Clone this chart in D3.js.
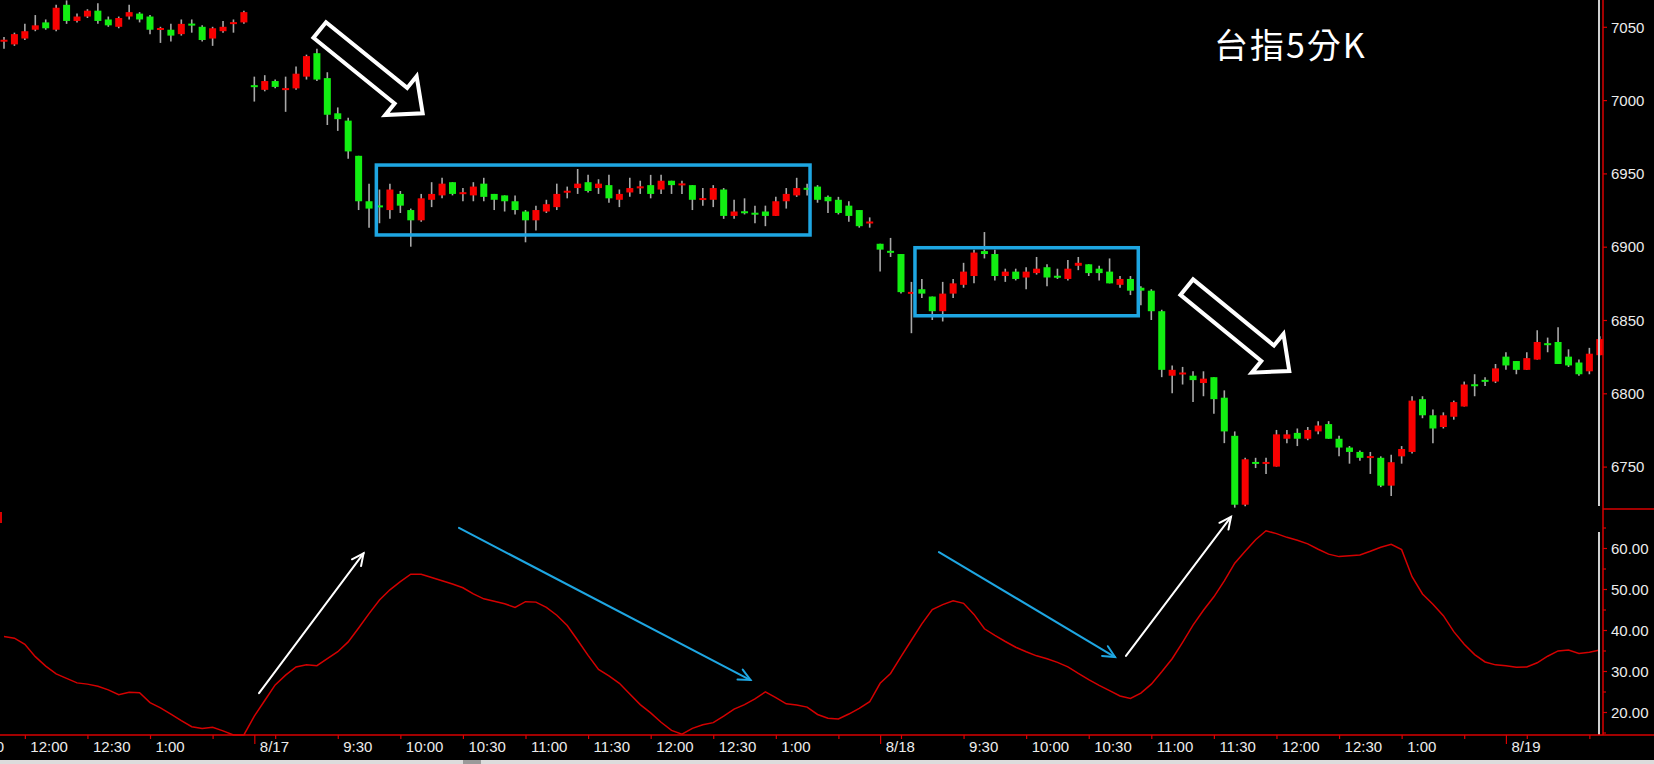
<!DOCTYPE html>
<html>
<head>
<meta charset="utf-8">
<script src="https://cdn.jsdelivr.net/npm/d3@7/dist/d3.min.js"></script>
<style>
  html, body { margin: 0; padding: 0; background: #000; overflow: hidden; }
  svg { display: block; }
  .lbl { font-family: "Liberation Sans", Arial, sans-serif; font-size: 15px; fill: #ececec; }
</style>
</head>
<body>
<svg id="chart" width="1654" height="764"></svg>
<script>
// ---- DATA (5-minute bars, TAIEX futures) ----
const opens  = [7040,7038,7042,7048,7053,7048,7065,7054,7057,7061,7055,7050,7057,7059,7057,7048,7048,7045,7052,7050,7042,7047,7052,7053,
 7010,7007,7013,7007,7008,7016,7032,7015,6991,6986,6962,6931,6928,6925,6936,6925,6918,6932,6935,6944,6936,6935,6943,6936,6935,6931,6924,6918,6924,6927,6937,6940,6944,6940,6942,6932,6937,6940,6942,6939,6945,6942,6942,6932,6932,6939,6921,6924,6923,6924,6921,6931,6935,6940,6941,6934,6932,6928,6925,6916,
 6902,6897,6895,6868,6871,6866,6856,6868,6874,6880,6897,6895,6880,6883,6879,6882,6886,6880,6878,6887,6888,6885,6883,6874,6878,6872,6870,6856,6812,6813,6812,6807,6811,6797,6771,6724,6753,6752,6750,6769,6773,6769,6774,6779,6769,6763,6760,6756,6756,6737,6757,6760,6796,6785,6777,6784,6791,6806,6809,6808,
 6825,6822,6816,6823,6834,6835,6825,6821,6815,6826];
const highs  = [7043,7046,7052,7058,7055,7065,7068,7059,7062,7066,7057,7057,7065,7060,7058,7050,7052,7055,7055,7051,7050,7054,7055,7061,
 7016,7017,7014,7016,7023,7031,7035,7019,6995,6988,6962,6943,6939,6943,6938,6926,6936,6944,6947,6944,6940,6944,6947,6936,6935,6935,6925,6928,6932,6943,6941,6953,6949,6946,6949,6939,6947,6945,6949,6949,6945,6945,6942,6940,6942,6940,6932,6933,6928,6928,6934,6940,6947,6943,6942,6935,6934,6931,6925,6920,
 6902,6906,6895,6876,6878,6866,6876,6878,6889,6898,6910,6898,6885,6885,6886,6893,6888,6885,6891,6893,6888,6887,6892,6880,6880,6873,6871,6857,6819,6818,6815,6815,6811,6802,6774,6756,6756,6756,6775,6775,6776,6777,6781,6781,6771,6764,6761,6760,6757,6758,6764,6798,6798,6789,6787,6795,6808,6813,6811,6820,
 6828,6822,6828,6843,6838,6845,6830,6823,6831,6839];
const lows   = [7035,7037,7041,7047,7048,7047,7052,7053,7056,7052,7050,7049,7055,7053,7045,7039,7040,7044,7046,7040,7037,7046,7046,7052,
 6999,7006,7008,6992,7007,7014,7013,6983,6979,6960,6925,6913,6916,6919,6923,6900,6917,6927,6933,6935,6931,6931,6931,6925,6924,6922,6903,6911,6923,6925,6933,6936,6937,6936,6930,6927,6934,6936,6933,6936,6936,6936,6925,6928,6927,6919,6919,6922,6916,6914,6921,6926,6934,6935,6930,6923,6922,6917,6913,6913,
 6883,6893,6868,6841,6865,6850,6849,6865,6872,6875,6892,6877,6876,6877,6871,6881,6873,6878,6877,6884,6880,6877,6875,6872,6867,6860,6850,6811,6800,6806,6794,6798,6786,6766,6722,6723,6749,6745,6750,6766,6764,6768,6772,6769,6757,6752,6754,6745,6736,6730,6752,6759,6783,6766,6776,6782,6791,6798,6805,6807,
 6816,6813,6816,6823,6828,6820,6818,6812,6813,6826];
const closes = [7041,7045,7047,7051,7049,7063,7054,7057,7061,7054,7051,7056,7060,7055,7048,7049,7044,7052,7051,7041,7049,7050,7053,7060,
 7009,7013,7009,7008,7018,7030,7014,6990,6987,6965,6931,6926,6927,6939,6928,6918,6933,6936,6943,6936,6937,6941,6934,6932,6931,6925,6918,6925,6929,6936,6938,6943,6938,6943,6933,6936,6940,6941,6936,6945,6942,6943,6932,6933,6940,6921,6924,6923,6922,6921,6931,6936,6940,6939,6932,6931,6923,6921,6914,6917,
 6898,6896,6869,6869,6868,6856,6868,6875,6883,6896,6895,6880,6883,6878,6883,6885,6879,6879,6885,6889,6882,6882,6875,6878,6870,6870,6856,6816,6816,6814,6809,6810,6796,6774,6724,6755,6752,6753,6772,6772,6769,6775,6778,6769,6763,6760,6756,6757,6737,6753,6762,6795,6785,6776,6785,6794,6806,6805,6808,6817,
 6819,6816,6824,6835,6833,6820,6819,6813,6827,6837];
// oscillator (lower panel)
const oscValues = [38.4,38.0,36.5,33.5,31.2,29.3,28.2,27.1,26.8,26.3,25.4,24.2,24.8,24.7,22.3,21.0,19.5,17.9,16.4,16.0,16.3,15.4,14.4,14.4,
 19.0,22.8,26.6,29.0,31.0,31.5,31.3,33.0,34.7,37.1,40.5,44.0,47.3,49.8,51.8,53.6,53.6,52.8,52.0,51.2,50.3,48.8,47.6,47.0,46.4,45.5,46.9,46.8,45.5,43.6,41.1,37.5,33.8,30.4,28.8,27.0,24.4,21.8,19.8,17.5,15.5,14.6,16.0,16.9,17.4,19.0,20.7,21.8,23.2,24.9,23.5,22.0,21.7,21.2,19.4,18.5,18.3,19.5,20.9,22.5,
 27.0,29.4,33.5,37.5,41.5,45.0,46.2,47.1,46.5,43.8,40.3,38.7,37.2,35.8,34.7,33.7,33.0,32.1,31.0,29.4,27.9,26.5,25.2,23.9,23.3,24.6,26.8,29.8,33.0,37.0,41.2,44.8,48.1,52.0,56.3,59.2,62.0,64.2,63.5,62.6,61.9,61.0,59.7,58.5,57.9,58.1,58.3,59.2,60.2,60.9,59.6,53.0,48.8,46.3,43.5,39.6,36.5,34.0,32.2,31.5,
 31.3,30.9,31.0,32.0,33.6,34.9,35.1,34.3,34.6,35.1];
// x-axis ticks (bar index) and labels
const tickIdx    = [-4,2,8,14,20,24,26,32,38,44,50,56,62,68,74,80,84,86,92,98,104,110,116,122,128,134,140,144,146,152];
const tickLabels = ["11:30","12:00","12:30","1:00","","8/17","","9:30","10:00","10:30","11:00","11:30","12:00","12:30","1:00","","8/18","","9:30","10:00","10:30","11:00","11:30","12:00","12:30","1:00","","8/19","",""];
const priceTicks = [6750,6800,6850,6900,6950,7000,7050];
const oscTicks   = [20,30,40,50,60];
const oscMinor   = [15,25,35,45,55,65];
const title = "台指5分K";
// annotations anchored in data space: [index, price/value]
const boxes = [[35.7,6955.7,77.28,6908.0],[87.34,6899.3,108.75,6852.9]];
const blockArrows = [[30.27,7047.8,40.14,6991.0],[113.4,6872.4,123.23,6815.2]];
const oscArrows = [[24.45,24.6,34.47,58.7,"#ffffff"],[43.62,64.9,71.57,27.8,"#1ea6e2"],[89.64,59.0,106.52,33.4,"#1ea6e2"],[107.57,33.7,117.64,67.6,"#ffffff"]];

// ---- LAYOUT ----
const W = 1654, H = 764;
const axisX = 1603, priceBottom = 509, oscBottom = 735;
const svg = d3.select("#chart");
svg.append("rect").attr("width", W).attr("height", H).attr("fill", "#000");

const x = d3.scaleLinear().domain([0, 153]).range([4, 1599.8]);
const yP = d3.scaleLinear().domain([6850, 7050]).range([320, 26.8]);
const yO = d3.scaleLinear().domain([20, 60]).range([712, 548]);

const bars = opens.map((o, i) => ({i, o, h: highs[i], l: lows[i], c: closes[i]}));

// candles
const gC = svg.append("g");
gC.selectAll("line.wick").data(bars).join("line")
  .attr("x1", d => x(d.i)).attr("x2", d => x(d.i))
  .attr("y1", d => yP(d.h)).attr("y2", d => yP(d.l))
  .attr("stroke", "#a8a8a8").attr("stroke-width", 1.6);
const bw = 7;
gC.selectAll("rect.body").data(bars).join("rect")
  .attr("x", d => x(d.i) - bw / 2).attr("width", bw)
  .attr("y", d => { const t = yP(Math.max(d.o, d.c)), b = yP(Math.min(d.o, d.c)); return (b - t < 2) ? (t + b) / 2 - 1 : t; })
  .attr("height", d => Math.max(2, yP(Math.min(d.o, d.c)) - yP(Math.max(d.o, d.c))))
  .attr("fill", d => d.c >= d.o ? "#f80000" : "#12ee12");

// oscillator line
svg.append("path").datum(oscValues)
  .attr("d", d3.line().x((d, i) => x(i)).y(d => Math.min(oscBottom, yO(d))))
  .attr("fill", "none").attr("stroke", "#d40000").attr("stroke-width", 1.5);

// blue boxes
svg.selectAll("rect.box").data(boxes).join("rect")
  .attr("x", d => x(d[0])).attr("y", d => yP(d[1]))
  .attr("width", d => x(d[2]) - x(d[0])).attr("height", d => yP(d[3]) - yP(d[1]))
  .attr("fill", "none").attr("stroke", "#1ea6e2").attr("stroke-width", 3.5);

// hollow block arrows
blockArrows.forEach(a => {
  const x0 = x(a[0]), y0 = yP(a[1]), x1 = x(a[2]), y1 = yP(a[3]);
  const L = Math.hypot(x1 - x0, y1 - y0), ang = Math.atan2(y1 - y0, x1 - x0) * 180 / Math.PI;
  const w = 20, hw = 50, hl = 28;
  const pts = [[0,-w/2],[L-hl,-w/2],[L-hl,-hw/2],[L,0],[L-hl,hw/2],[L-hl,w/2],[0,w/2]];
  svg.append("polygon").attr("points", pts.map(p => p.join(",")).join(" "))
    .attr("transform", `translate(${x0},${y0}) rotate(${ang})`)
    .attr("fill", "#000").attr("stroke", "#ffffff").attr("stroke-width", 4).attr("stroke-linejoin", "miter");
});

// thin arrows in the oscillator panel
oscArrows.forEach(a => {
  const x0 = x(a[0]), y0 = yO(a[1]), x1 = x(a[2]), y1 = yO(a[3]);
  const ang = Math.atan2(y1 - y0, x1 - x0), hl = 13, ha = 0.45;
  const g = svg.append("g").attr("stroke", a[4]).attr("stroke-width", 2).attr("fill", "none").attr("stroke-linecap", "round");
  g.append("line").attr("x1", x0).attr("y1", y0).attr("x2", x1).attr("y2", y1);
  g.append("path").attr("d", `M${x1 - hl * Math.cos(ang - ha)},${y1 - hl * Math.sin(ang - ha)} L${x1},${y1} L${x1 - hl * Math.cos(ang + ha)},${y1 - hl * Math.sin(ang + ha)}`);
});

// cursor line (gray vertical)
svg.append("line").attr("x1", 1599).attr("x2", 1599).attr("y1", 0).attr("y2", 506).attr("stroke", "#cfcfcf").attr("stroke-width", 2);
svg.append("line").attr("x1", 1599).attr("x2", 1599).attr("y1", 532).attr("y2", oscBottom).attr("stroke", "#cfcfcf").attr("stroke-width", 2);

// axes frame lines
const red = "#d80000";
svg.append("line").attr("x1", axisX).attr("x2", axisX).attr("y1", 0).attr("y2", oscBottom).attr("stroke", red).attr("stroke-width", 1.5);
svg.append("line").attr("x1", axisX).attr("x2", W).attr("y1", priceBottom).attr("y2", priceBottom).attr("stroke", red).attr("stroke-width", 1.5);
svg.append("line").attr("x1", 0).attr("x2", W).attr("y1", oscBottom).attr("y2", oscBottom).attr("stroke", red).attr("stroke-width", 1.5);
svg.append("line").attr("x1", 1).attr("x2", 1).attr("y1", 512).attr("y2", 523).attr("stroke", red).attr("stroke-width", 2);

// right price axis
const axP = svg.append("g").attr("transform", `translate(${axisX},0)`)
  .call(d3.axisRight(yP).tickValues(priceTicks).tickSize(4).tickPadding(4).tickFormat(d3.format("d")));
// oscillator axis
const axO = svg.append("g").attr("transform", `translate(${axisX},0)`)
  .call(d3.axisRight(yO).tickValues(oscTicks).tickSize(4).tickPadding(4).tickFormat(d3.format(".2f")));
const axOm = svg.append("g").attr("transform", `translate(${axisX},0)`)
  .call(d3.axisRight(yO).tickValues(oscMinor).tickSize(3).tickFormat(""));
[axP, axO, axOm].forEach(g => {
  g.select(".domain").remove();
  g.selectAll(".tick line").attr("stroke", red).attr("stroke-width", 1.2);
  g.selectAll(".tick text").attr("class", "lbl").attr("dy", "0.35em");
});

// bottom time axis
const axT = svg.append("g").attr("transform", `translate(0,${oscBottom})`)
  .call(d3.axisBottom(x).tickValues(tickIdx).tickSize(4).tickFormat((d, i) => tickLabels[i]));
axT.select(".domain").remove();
axT.selectAll(".tick line").attr("stroke", red).attr("stroke-width", 1.2)
  .attr("y2", (d, i) => tickLabels[i].includes("/") ? 9 : 4);
axT.selectAll(".tick text").attr("class", "lbl").attr("text-anchor", "start")
  .attr("x", 5).attr("y", 6).attr("dy", "0.71em");

// bottom window strip
svg.append("rect").attr("x", 0).attr("y", 760).attr("width", W).attr("height", 4).attr("fill", "#dcdcdc");
svg.append("rect").attr("x", 463).attr("y", 760).attr("width", 18).attr("height", 4).attr("fill", "#9a9a9a");

// title
svg.append("text").attr("x", 1214).attr("y", 58).text(title)
  .attr("font-family", "'Noto Sans CJK TC', 'Noto Sans CJK SC', sans-serif").attr("font-size", 34)
  .attr("letter-spacing", 2).attr("fill", "#ffffff");
</script>
</body>
</html>
